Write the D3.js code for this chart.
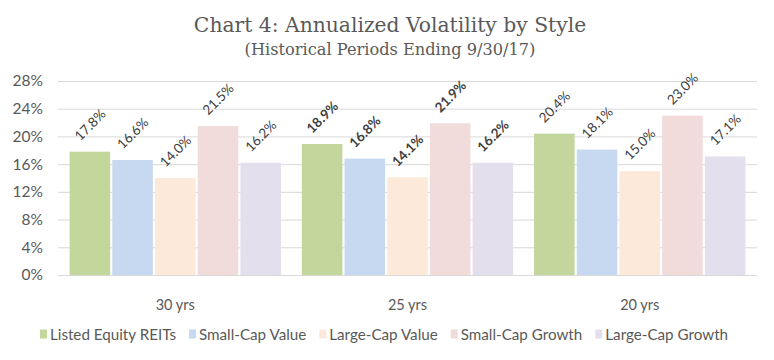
<!DOCTYPE html>
<html><head><meta charset="utf-8">
<script src="https://cdn.jsdelivr.net/npm/d3@7"></script>
<style>body{margin:0;background:#fff}</style>
</head><body>
<script>
const categories = ["30 yrs", "25 yrs", "20 yrs"];
const seriesNames = ["Listed Equity REITs", "Small-Cap Value", "Large-Cap Value", "Small-Cap Growth", "Large-Cap Growth"];
const reits = [17.8, 18.9, 20.4];
const smallValue = [16.6, 16.8, 18.1];
const largeValue = [14.0, 14.1, 15.0];
const smallGrowth = [21.5, 21.9, 23.0];
const largeGrowth = [16.2, 16.2, 17.1];
const yTicks = [0, 4, 8, 12, 16, 20, 24, 28];
const boldCategory = "25 yrs";
const colors = ["#C3D69B", "#C6D9F0", "#FDE9D9", "#F2DCDB", "#E4DFEC"];

const seriesValues = [reits, smallValue, largeValue, smallGrowth, largeGrowth];
const W = 774, H = 360;
const m = {l: 58, r: 17, t: 81, b: 85};
const svg = d3.select("body").append("svg").attr("width", W).attr("height", H);

svg.append("text").attr("x", 390).attr("y", 32).attr("text-anchor", "middle")
  .attr("font-family", "'DejaVu Serif', serif").attr("font-size", 20.3).attr("fill", "#595959")
  .text("Chart 4: Annualized Volatility by Style");
svg.append("text").attr("x", 390).attr("y", 55).attr("text-anchor", "middle")
  .attr("font-family", "'DejaVu Serif', serif").attr("font-size", 16.2).attr("fill", "#595959")
  .text("(Historical Periods Ending 9/30/17)");

const x0 = d3.scaleBand().domain(categories).range([m.l, W - m.r]).paddingInner(0.09).paddingOuter(0.05);
const x1 = d3.scaleBand().domain(seriesNames).range([0, x0.bandwidth()]).paddingInner(0.05);
const y = d3.scaleLinear().domain([0, 28]).range([H - m.b, m.t]);

const yAxis = svg.append("g").attr("transform", `translate(${m.l},0)`)
  .call(d3.axisLeft(y).tickValues(yTicks).tickFormat(d => d + "%").tickSize(-(W - m.l - m.r)).tickPadding(15));
yAxis.select(".domain").remove();
yAxis.selectAll("line").attr("stroke", "#D9D9D9");
yAxis.selectAll("text").attr("font-family", "Lato, sans-serif").attr("font-size", 15.5).attr("fill", "#595959");

const g = svg.append("g");
categories.forEach((c, ci) => {
  const gg = g.append("g").attr("transform", `translate(${x0(c)},0)`);
  seriesNames.forEach((s, si) => {
    const v = seriesValues[si][ci];
    gg.append("rect").attr("x", x1(s)).attr("y", y(v)).attr("width", x1.bandwidth())
      .attr("height", y(0) - y(v)).attr("fill", colors[si]);
    const cx = x1(s) + x1.bandwidth() / 2, cy = y(v) - 27;
    gg.append("text").attr("transform", `translate(${cx},${cy}) rotate(-45)`)
      .attr("text-anchor", "middle").attr("dominant-baseline", "central")
      .attr("font-family", "Lato, sans-serif").attr("font-size", 13.5)
      .attr("font-weight", c === boldCategory ? "bold" : "normal")
      .attr("fill", "#404040").text(v.toFixed(1) + "%");
  });
});

const xAxis = svg.append("g").attr("transform", `translate(0,${y(0)})`)
  .call(d3.axisBottom(x0).tickSize(0).tickPadding(25));
xAxis.select(".domain").attr("stroke", "#D9D9D9");
xAxis.selectAll("text").attr("font-family", "Lato, sans-serif").attr("font-size", 14.5).attr("fill", "#595959");

// legend
const lg = svg.append("g");
let lx = 0;
const items = [];
seriesNames.forEach((s, i) => {
  const it = lg.append("g");
  it.append("rect").attr("x", 0).attr("y", -4.5).attr("width", 7).attr("height", 9).attr("fill", colors[i]);
  const t = it.append("text").attr("x", 10).attr("y", 0).attr("dominant-baseline", "central")
    .attr("font-family", "Lato, sans-serif").attr("font-size", 15.2).attr("fill", "#595959").text(s);
  items.push({it, w: 10 + t.node().getComputedTextLength()});
});
const gap = 13;
const total = d3.sum(items, d => d.w) + gap * (items.length - 1);
lx = (W - total) / 2 - 3;
items.forEach(d => { d.it.attr("transform", `translate(${lx},334)`); lx += d.w + gap; });
</script>
</body></html>
